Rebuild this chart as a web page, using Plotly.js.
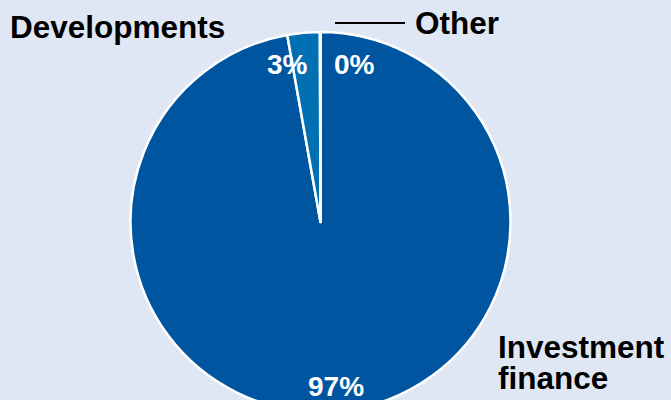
<!DOCTYPE html>
<html><head><meta charset="utf-8">
<script src="https://cdn.plot.ly/plotly-3.0.1.min.js"></script>
<style>html,body{margin:0;padding:0;overflow:hidden;background:#DFE7F5;}</style>
</head><body><div id="chart"></div>
<script>
const categories = ["Investment finance", "Developments", "Other"];
const values = [97.2, 2.75, 0.05];
const pctLabels = ["97%", "3%", "0%"];
const colors = ["#0055A0", "#0070B2", "#0055A0"];

const W = 671, H = 440;
const px = x => x / W;
const py = y => 1 - y / H;
const cx = 320.5, cy = 222, r = 190;

const trace = {
  type: "pie",
  labels: categories,
  values: values,
  sort: false,
  direction: "clockwise",
  rotation: 0,
  textinfo: "none",
  hoverinfo: "label+percent",
  marker: {colors: colors, line: {color: "#FFFFFF", width: 2.5}},
  domain: {x: [px(cx - r), px(cx + r)], y: [py(cy + r), py(cy - r)]},
  showlegend: false
};

const labFont = {family: "Liberation Sans, Arial, sans-serif", size: 31.5, color: "#000000"};
const pctFont = {family: "Liberation Sans, Arial, sans-serif", size: 28, color: "#FFFFFF"};
function ann(text, x, y, font, xanchor, h) {
  const a = {text: "<b>" + text + "</b>", x: px(x), y: py(y), xref: "paper", yref: "paper",
    xanchor: xanchor || "center", yanchor: "middle", showarrow: false, font: font};
  if (h) a.height = h;
  return a;
}
const annotations = [
  ann(categories[1], 8, 27, labFont, "left"),
  ann(categories[2], 413, 23, labFont, "left"),
  ann("Investment", 496, 347, labFont, "left", 30),
  ann("finance", 496, 378, labFont, "left", 30),
  ann(pctLabels[1], 287, 65, pctFont),
  ann(pctLabels[2], 354, 65, pctFont),
  ann(pctLabels[0], 336, 386, pctFont, "center", 24)
];

const layout = {
  width: W, height: H,
  margin: {l: 0, r: 0, t: 0, b: 0},
  paper_bgcolor: "#DFE7F5",
  plot_bgcolor: "#DFE7F5",
  annotations: annotations,
  shapes: [{type: "line", xref: "paper", yref: "paper", x0: px(335), x1: px(405), y0: py(23), y1: py(23),
    line: {color: "#000000", width: 2}}]
};
Plotly.newPlot("chart", [trace], layout, {displayModeBar: false, staticPlot: true});
</script></body></html>
